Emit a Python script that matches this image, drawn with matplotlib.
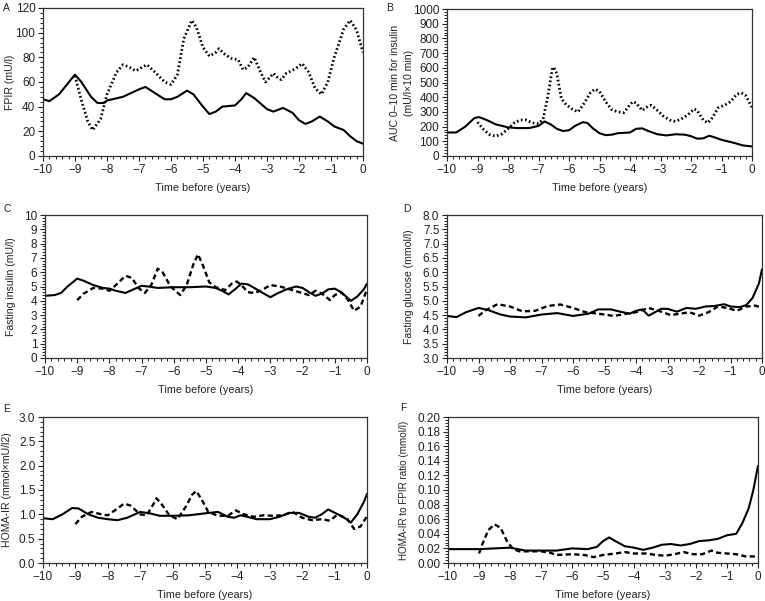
import matplotlib
matplotlib.use('Agg')
import matplotlib.pyplot as plt
from matplotlib.ticker import AutoMinorLocator, FormatStrFormatter, MultipleLocator
import numpy as np

plt.rcParams['font.family'] = ['Liberation Sans', 'DejaVu Sans']
plt.rcParams['axes.unicode_minus'] = True

# ---------------------------------------------------------------------------------------------------------------------
# data: (time before diagnosis in years, value)

# A: FPIR (mU/l)
a_solid_t = [-10, -9.8, -9.5, -9.25, -9.0, -8.8, -8.5, -8.3, -8.1, -8.0, -7.5, -7.0, -6.8, -6.5, -6.2, -6.0,
             -5.8, -5.5, -5.3, -5.0, -4.8, -4.6, -4.4, -4.0, -3.8, -3.65, -3.4, -3.0, -2.8, -2.5, -2.2, -2.0,
             -1.8, -1.6, -1.35, -1.1, -0.9, -0.6, -0.4, -0.2, 0]
a_solid_y = [46, 44.5, 50, 58, 66, 60, 48, 43, 43, 45, 48, 54, 56, 51, 46, 46,
             48, 53, 50, 40, 34, 36, 40, 41, 46, 51, 47, 38, 36, 39, 35, 29,
             26, 28, 32, 28, 24, 21, 16, 12, 10]
a_dot_t = [-9.0, -8.8, -8.6, -8.45, -8.2, -8.0, -7.7, -7.5, -7.3, -7.1, -6.9, -6.75, -6.5, -6.2, -6.0, -5.8,
           -5.6, -5.35, -5.2, -5.0, -4.8, -4.6, -4.5, -4.3, -4.1, -3.9, -3.75, -3.6, -3.4, -3.2, -3.05, -2.9,
           -2.8, -2.65, -2.55, -2.4, -2.1, -1.9, -1.7, -1.5, -1.3, -1.1, -0.9, -0.6, -0.4, -0.2, 0]
a_dot_y = [65, 45, 28, 21, 30, 50, 68, 74, 72, 69, 72, 74, 68, 60, 58, 66,
           95, 110, 104, 88, 81, 84, 87, 82, 79, 78, 70, 72, 80, 68, 60, 64,
           67, 63, 62, 67, 71, 75, 68, 55, 50, 60, 80, 103, 110, 102, 84]

# B: AUC 0-10 min for insulin
b_solid_t = [-10, -9.7, -9.4, -9.1, -8.95, -8.7, -8.4, -8.0, -7.7, -7.3, -7.0, -6.8, -6.6, -6.4, -6.2, -6.0,
             -5.8, -5.55, -5.4, -5.2, -5.0, -4.8, -4.6, -4.4, -4.0, -3.8, -3.6, -3.4, -3.1, -2.8, -2.5, -2.2,
             -2.0, -1.8, -1.6, -1.4, -1.2, -1.0, -0.6, -0.3, 0]
b_solid_y = [160, 160, 200, 258, 265, 245, 215, 195, 190, 190, 205, 235, 215, 185, 170, 175,
             205, 230, 225, 185, 155, 142, 145, 155, 160, 185, 188, 170, 148, 140, 148, 145,
             135, 118, 120, 138, 125, 110, 90, 72, 65]
b_dot_t = [-9.0, -8.8, -8.6, -8.4, -8.2, -8.0, -7.8, -7.6, -7.4, -7.2, -7.0, -6.85, -6.7, -6.55, -6.5, -6.4,
           -6.25, -6.1, -5.9, -5.7, -5.5, -5.3, -5.15, -5.0, -4.8, -4.6, -4.4, -4.2, -4.0, -3.9, -3.8, -3.6,
           -3.4, -3.3, -3.1, -2.9, -2.7, -2.5, -2.3, -2.1, -1.9, -1.8, -1.6, -1.45, -1.3, -1.1, -0.9, -0.7,
           -0.5, -0.35, -0.2, 0]
b_dot_y = [230, 180, 145, 135, 150, 185, 225, 245, 245, 225, 220, 250, 400, 590, 605, 560,
           390, 350, 320, 300, 360, 430, 455, 440, 370, 315, 300, 295, 350, 370, 360, 310,
           340, 345, 310, 270, 245, 235, 255, 280, 320, 310, 245, 225, 260, 330, 345, 370,
           420, 430, 410, 330]

# C: fasting insulin (mU/l)
c_solid_t = [-10, -9.7, -9.5, -9.3, -9.0, -8.8, -8.5, -8.2, -8.0, -7.8, -7.5, -7.3, -7.0, -6.8, -6.5, -6.0,
             -5.5, -5.0, -4.7, -4.5, -4.3, -4.1, -3.9, -3.7, -3.5, -3.2, -3.0, -2.8, -2.5, -2.2, -2.0, -1.8,
             -1.6, -1.4, -1.2, -1.0, -0.8, -0.5, -0.3, -0.1, 0]
c_solid_y = [4.35, 4.4, 4.55, 5.0, 5.55, 5.4, 5.1, 4.9, 4.85, 4.7, 4.55, 4.75, 5.05, 5.0, 4.9, 4.95,
             4.95, 5.0, 4.9, 4.7, 4.45, 4.8, 5.2, 5.15, 4.9, 4.5, 4.25, 4.5, 4.8, 5.0, 4.9, 4.6,
             4.35, 4.5, 4.8, 4.85, 4.6, 4.0, 4.3, 4.8, 5.2]
c_dash_t = [-9.0, -8.8, -8.5, -8.2, -8.0, -7.8, -7.5, -7.3, -7.1, -6.9, -6.7, -6.5, -6.35, -6.1, -5.9, -5.8,
            -5.6, -5.4, -5.25, -5.1, -4.9, -4.7, -4.4, -4.2, -4.05, -3.9, -3.7, -3.5, -3.3, -3.0, -2.7, -2.4,
            -2.1, -1.8, -1.6, -1.4, -1.15, -1.0, -0.8, -0.6, -0.4, -0.2, 0]
c_dash_y = [4.05, 4.5, 4.9, 4.85, 4.7, 5.1, 5.75, 5.6, 4.9, 4.55, 5.1, 6.25, 6.0, 5.0, 4.6, 4.4,
            5.1, 6.5, 7.25, 6.5, 5.3, 4.95, 4.75, 5.2, 5.35, 5.1, 4.6, 4.55, 4.7, 5.1, 5.0, 4.8,
            4.6, 4.4, 4.7, 4.5, 4.05, 4.4, 4.6, 4.1, 3.3, 3.6, 4.8]

# D: fasting glucose (mmol/l)
d_solid_t = [-10, -9.7, -9.4, -9.0, -8.7, -8.3, -8.0, -7.5, -7.0, -6.5, -6.0, -5.5, -5.2, -4.8, -4.5, -4.2,
             -4.0, -3.8, -3.6, -3.4, -3.2, -3.0, -2.7, -2.4, -2.1, -1.8, -1.5, -1.2, -1.0, -0.7, -0.5, -0.3,
             -0.1, 0]
d_solid_y = [4.47, 4.43, 4.6, 4.75, 4.68, 4.52, 4.45, 4.42, 4.52, 4.57, 4.47, 4.55, 4.7, 4.7, 4.62, 4.55,
             4.65, 4.7, 4.48, 4.6, 4.72, 4.72, 4.62, 4.75, 4.72, 4.8, 4.82, 4.88, 4.8, 4.78, 4.85, 5.1,
             5.6, 6.1]
d_dash_t = [-9.0, -8.8, -8.4, -8.0, -7.6, -7.2, -6.8, -6.4, -6.0, -5.6, -5.2, -4.7, -4.3, -4.0, -3.6, -3.2,
            -2.9, -2.6, -2.3, -2.0, -1.7, -1.4, -1.1, -0.8, -0.5, -0.2, 0]
d_dash_y = [4.47, 4.65, 4.88, 4.8, 4.63, 4.65, 4.82, 4.87, 4.75, 4.6, 4.55, 4.47, 4.55, 4.6, 4.75, 4.62,
            4.5, 4.55, 4.6, 4.48, 4.6, 4.8, 4.75, 4.65, 4.8, 4.83, 4.75]

# E: HOMA-IR
e_solid_t = [-10, -9.7, -9.4, -9.1, -8.9, -8.6, -8.3, -8.0, -7.7, -7.4, -7.0, -6.7, -6.4, -6.0, -5.5, -5.0,
             -4.6, -4.3, -4.1, -3.9, -3.7, -3.4, -3.0, -2.7, -2.4, -2.1, -1.8, -1.6, -1.4, -1.2, -0.9, -0.7,
             -0.5, -0.3, -0.1, 0]
e_solid_y = [0.92, 0.9, 1.0, 1.13, 1.12, 1.0, 0.93, 0.9, 0.88, 0.93, 1.05, 1.02, 0.97, 0.97, 0.98, 1.02,
             1.05, 0.95, 0.93, 0.98, 0.95, 0.9, 0.9, 0.95, 1.03, 1.03, 0.95, 0.93, 1.0, 1.1, 1.0, 0.93,
             0.83, 1.0, 1.25, 1.42]
e_dash_t = [-9.0, -8.8, -8.5, -8.2, -8.0, -7.7, -7.5, -7.3, -7.0, -6.8, -6.6, -6.5, -6.35, -6.1, -5.85, -5.6,
            -5.4, -5.27, -5.1, -4.9, -4.6, -4.3, -4.05, -3.8, -3.5, -3.2, -2.9, -2.6, -2.3, -2.0, -1.7, -1.4,
            -1.15, -0.9, -0.6, -0.4, -0.2, 0]
e_dash_y = [0.8, 0.95, 1.05, 1.0, 0.98, 1.12, 1.22, 1.18, 1.0, 0.98, 1.2, 1.33, 1.22, 0.98, 0.9, 1.15,
            1.4, 1.48, 1.3, 1.05, 0.97, 0.97, 1.08, 1.0, 0.95, 0.98, 0.97, 0.98, 1.05, 0.93, 0.88, 0.9,
            0.87, 1.0, 0.9, 0.7, 0.75, 0.96]

# F: HOMA-IR to FPIR ratio
f_solid_t = [-10, -9, -8, -7.5, -7.0, -6.5, -6.0, -5.5, -5.2, -5.0, -4.8, -4.6, -4.3, -4.0, -3.7, -3.4,
             -3.1, -2.8, -2.5, -2.2, -1.9, -1.6, -1.3, -1.0, -0.7, -0.5, -0.3, -0.15, 0]
f_solid_y = [0.019, 0.019, 0.021, 0.017, 0.017, 0.017, 0.020, 0.019, 0.022, 0.030, 0.035, 0.030, 0.023, 0.021, 0.018, 0.021,
             0.025, 0.026, 0.024, 0.026, 0.030, 0.031, 0.033, 0.038, 0.040, 0.055, 0.075, 0.100, 0.133]
f_dash_t = [-9.0, -8.9, -8.7, -8.5, -8.3, -8.1, -7.9, -7.7, -7.4, -7.0, -6.7, -6.5, -6.0, -5.6, -5.3, -5.0,
            -4.6, -4.3, -4.0, -3.6, -3.3, -3.0, -2.7, -2.4, -2.1, -1.8, -1.5, -1.3, -1.0, -0.7, -0.4, -0.1, 0]
f_dash_y = [0.013, 0.025, 0.045, 0.053, 0.048, 0.030, 0.019, 0.016, 0.016, 0.016, 0.014, 0.011, 0.012, 0.011, 0.008, 0.011,
            0.013, 0.015, 0.013, 0.013, 0.011, 0.010, 0.012, 0.015, 0.012, 0.012, 0.017, 0.014, 0.013, 0.012, 0.009, 0.009, 0.010]

x_ticks = list(range(-10, 1))
x_labels = ['\u2212%d' % -v if v < 0 else '0' for v in x_ticks]

# ---------------------------------------------------------------------------------------------------------------------

W, H = 765, 601
fig = plt.figure(figsize=(W / 100, H / 100), dpi=100)


def make_ax(left, right, top, bottom):
    ax = fig.add_axes([left / W, 1 - bottom / H, (right - left) / W, (bottom - top) / H])
    ax.px_left = left
    ax.px_width = right - left
    return ax


def style_ax(ax, ymin, ymax, ystep, fmt, ylabel, letter, lx, ly, label_x, label_size=7.6):
    ax.set_xlim(-10, 0)
    ax.set_ylim(ymin, ymax)
    ax.set_xticks(x_ticks)
    ax.set_xticklabels(x_labels)
    ax.xaxis.set_minor_locator(AutoMinorLocator(5))
    ax.yaxis.set_major_locator(MultipleLocator(ystep))
    ax.yaxis.set_minor_locator(AutoMinorLocator(5))
    ax.yaxis.set_major_formatter(FormatStrFormatter(fmt))
    ax.tick_params(which='major', direction='out', length=3.5, width=0.8, labelsize=8.5, pad=2, colors='#222222')
    ax.tick_params(which='minor', direction='out', length=2, width=0.6)
    for s in ax.spines.values():
        s.set_linewidth(0.9)
        s.set_color('#333333')
    ax.set_xlabel('Time before (years)', fontsize=7.8, color='#222222', labelpad=5)
    ax.set_ylabel(ylabel, fontsize=label_size, color='#222222', va='center', linespacing=1.45)
    # place the y label centre at a given pixel column
    ax.yaxis.set_label_coords((label_x - ax.px_left) / ax.px_width, 0.5)
    fig.text(lx / W, 1 - ly / H, letter, fontsize=7.5, color='#222222', ha='left', va='top')


solid_kw = dict(color='black', lw=1.5, solid_capstyle='round')
dot_kw = dict(color='black', lw=2.0, linestyle=(0, (0.6, 0.9)), dash_capstyle='butt')
dash_kw = dict(color='black', lw=1.7, linestyle=(0, (2.2, 1.4)))

# A
ax = make_ax(43, 363, 8, 156)
ax.plot(a_solid_t, a_solid_y, **solid_kw)
ax.plot(a_dot_t, a_dot_y, **dot_kw)
style_ax(ax, 0, 120, 20, '%d', 'FPIR (mU/l)', 'A', 3, 3, 10)

# B
ax = make_ax(447, 752, 9, 156)
ax.plot(b_solid_t, b_solid_y, **solid_kw)
ax.plot(b_dot_t, b_dot_y, **dot_kw)
style_ax(ax, 0, 1000, 100, '%d', 'AUC 0\u201310 min for insulin\n(mU/l\u00d710 min)', 'B', 386, 3, 402)

# C
ax = make_ax(45, 367, 215, 358)
ax.plot(c_solid_t, c_solid_y, **solid_kw)
ax.plot(c_dash_t, c_dash_y, **dash_kw)
style_ax(ax, 0, 10, 1, '%d', 'Fasting insulin (mU/l)', 'C', 3, 204, 11)

# D
ax = make_ax(447, 762, 215, 358)
ax.plot(d_solid_t, d_solid_y, **solid_kw)
ax.plot(d_dash_t, d_dash_y, **dash_kw)
style_ax(ax, 3.0, 8.0, 0.5, '%.1f', 'Fasting glucose (mmol/l)', 'D', 403, 204, 409)

# E
ax = make_ax(43, 367, 417, 563)
ax.plot(e_solid_t, e_solid_y, **solid_kw)
ax.plot(e_dash_t, e_dash_y, **dash_kw)
style_ax(ax, 0.0, 3.0, 0.5, '%.1f', 'HOMA-IR (mmol\u00d7mU/l2)', 'E', 3, 404, 7)

# F
ax = make_ax(448, 758, 417, 563)
ax.plot(f_solid_t, f_solid_y, **solid_kw)
ax.plot(f_dash_t, f_dash_y, **dash_kw)
style_ax(ax, 0.0, 0.20, 0.02, '%.2f', 'HOMA-IR to FPIR ratio (mmol/l)', 'F', 400, 403, 404, label_size=7.1)

fig.savefig('out.png', dpi=100)
